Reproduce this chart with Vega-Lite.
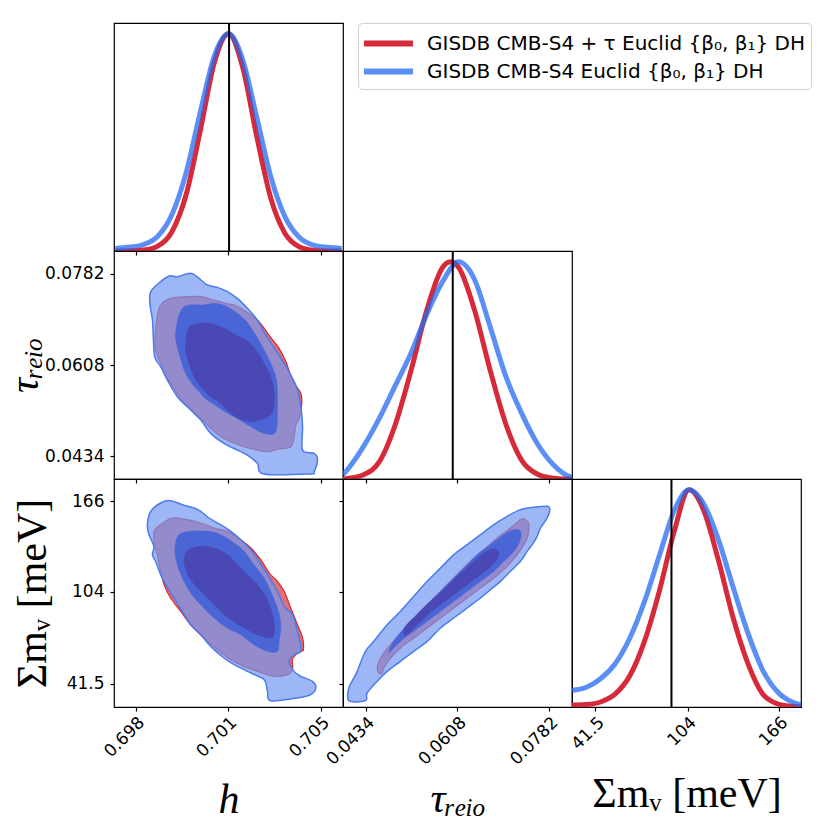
{
"$schema": "https://vega.github.io/schema/vega-lite/v6.json",
"background": "white",
"padding": {"left": 2, "top": 21, "right": 5, "bottom": 5},
"config": {
  "view": {"stroke": "black", "strokeWidth": 1.2},
  "axis": {"grid": false, "domain": false, "tickColor": "black", "tickSize": 4, "tickWidth": 1.2, "labelFont": "DejaVu Sans", "labelFontSize": 17, "labelColor": "black", "labelPadding": 4, "labelOverlap": false, "titleFont": "Liberation Serif", "titleFontSize": 42, "titleFontWeight": "normal", "titleColor": "black"}
},
"datasets": {
  "d11": [
    {"s":"red","h":0.6975,"p":0.0001},{"s":"red","h":0.6980,"p":0.0006},{"s":"red","h":0.6985,"p":0.0042},{"s":"red","h":0.6990,"p":0.0226},{"s":"red","h":0.6995,"p":0.089},{"s":"red","h":0.7000,"p":0.259},{"s":"red","h":0.7005,"p":0.553},{"s":"red","h":0.7010,"p":0.868},{"s":"red","h":0.7015,"p":1.0},{"s":"red","h":0.7020,"p":0.847},{"s":"red","h":0.7025,"p":0.527},{"s":"red","h":0.7030,"p":0.241},{"s":"red","h":0.7035,"p":0.081},{"s":"red","h":0.7040,"p":0.020},{"s":"red","h":0.7045,"p":0.0036},{"s":"red","h":0.7050,"p":0.0005},{"s":"red","h":0.7055,"p":0.0},
    {"s":"blue","h":0.6975,"p":0.012},{"s":"blue","h":0.6980,"p":0.018},{"s":"blue","h":0.6985,"p":0.03},{"s":"blue","h":0.6990,"p":0.068},{"s":"blue","h":0.6995,"p":0.168},{"s":"blue","h":0.7000,"p":0.360},{"s":"blue","h":0.7005,"p":0.639},{"s":"blue","h":0.7010,"p":0.898},{"s":"blue","h":0.7015,"p":1.0},{"s":"blue","h":0.7020,"p":0.882},{"s":"blue","h":0.7025,"p":0.615},{"s":"blue","h":0.7030,"p":0.340},{"s":"blue","h":0.7035,"p":0.157},{"s":"blue","h":0.7040,"p":0.063},{"s":"blue","h":0.7045,"p":0.027},{"s":"blue","h":0.7050,"p":0.017},{"s":"blue","h":0.7055,"p":0.012}
  ],
  "d22": [
    {"s":"red","tau":0.0391,"p":0.0},{"s":"red","tau":0.040,"p":0.003},{"s":"red","tau":0.043,"p":0.02},{"s":"red","tau":0.046,"p":0.08},{"s":"red","tau":0.049,"p":0.25},{"s":"red","tau":0.052,"p":0.50},{"s":"red","tau":0.055,"p":0.78},{"s":"red","tau":0.058,"p":0.975},{"s":"red","tau":0.0595,"p":1.0},{"s":"red","tau":0.061,"p":0.975},{"s":"red","tau":0.064,"p":0.78},{"s":"red","tau":0.067,"p":0.50},{"s":"red","tau":0.070,"p":0.25},{"s":"red","tau":0.073,"p":0.085},{"s":"red","tau":0.076,"p":0.022},{"s":"red","tau":0.079,"p":0.004},{"s":"red","tau":0.082,"p":0.0},{"s":"red","tau":0.0825,"p":0.0},
    {"s":"blue","tau":0.0391,"p":0.02},{"s":"blue","tau":0.040,"p":0.045},{"s":"blue","tau":0.043,"p":0.15},{"s":"blue","tau":0.046,"p":0.28},{"s":"blue","tau":0.049,"p":0.43},{"s":"blue","tau":0.052,"p":0.58},{"s":"blue","tau":0.055,"p":0.76},{"s":"blue","tau":0.058,"p":0.91},{"s":"blue","tau":0.061,"p":1.0},{"s":"blue","tau":0.064,"p":0.92},{"s":"blue","tau":0.067,"p":0.70},{"s":"blue","tau":0.070,"p":0.47},{"s":"blue","tau":0.073,"p":0.30},{"s":"blue","tau":0.076,"p":0.16},{"s":"blue","tau":0.079,"p":0.065},{"s":"blue","tau":0.082,"p":0.012},{"s":"blue","tau":0.0825,"p":0.008}
  ],
  "d33": [
    {"s":"red","m":25.6,"p":0.008},{"s":"red","m":35,"p":0.011},{"s":"red","m":45,"p":0.023},{"s":"red","m":55,"p":0.06},{"s":"red","m":65,"p":0.146},{"s":"red","m":75,"p":0.307},{"s":"red","m":85,"p":0.537},{"s":"red","m":95,"p":0.81},{"s":"red","m":105,"p":1.0},{"s":"red","m":115,"p":0.905},{"s":"red","m":125,"p":0.675},{"s":"red","m":135,"p":0.41},{"s":"red","m":145,"p":0.2},{"s":"red","m":155,"p":0.06},{"s":"red","m":165,"p":0.015},{"s":"red","m":175,"p":0.003},{"s":"red","m":181,"p":0.0},
    {"s":"blue","m":25.6,"p":0.077},{"s":"blue","m":35,"p":0.09},{"s":"blue","m":45,"p":0.13},{"s":"blue","m":55,"p":0.20},{"s":"blue","m":65,"p":0.32},{"s":"blue","m":75,"p":0.49},{"s":"blue","m":85,"p":0.70},{"s":"blue","m":95,"p":0.905},{"s":"blue","m":105,"p":1.0},{"s":"blue","m":115,"p":0.935},{"s":"blue","m":125,"p":0.77},{"s":"blue","m":135,"p":0.55},{"s":"blue","m":145,"p":0.34},{"s":"blue","m":155,"p":0.17},{"s":"blue","m":165,"p":0.07},{"s":"blue","m":175,"p":0.023},{"s":"blue","m":181,"p":0.01}
  ],
  "c21": [
    {"lv":"b95","i":1,"h":0.69875,"tau":0.07476},{"lv":"b95","i":2,"h":0.69910,"tau":0.07666},{"lv":"b95","i":3,"h":0.69940,"tau":0.07774},{"lv":"b95","i":4,"h":0.69969,"tau":0.07761},{"lv":"b95","i":5,"h":0.70016,"tau":0.07825},{"lv":"b95","i":6,"h":0.70046,"tau":0.07730},{"lv":"b95","i":7,"h":0.70075,"tau":0.07603},{"lv":"b95","i":8,"h":0.70111,"tau":0.07558},{"lv":"b95","i":9,"h":0.70146,"tau":0.07476},{"lv":"b95","i":10,"h":0.70181,"tau":0.07349},{"lv":"b95","i":11,"h":0.70217,"tau":0.07158},{"lv":"b95","i":12,"h":0.70252,"tau":0.06936},{"lv":"b95","i":13,"h":0.70282,"tau":0.06651},{"lv":"b95","i":14,"h":0.70317,"tau":0.06365},{"lv":"b95","i":15,"h":0.70347,"tau":0.06111},{"lv":"b95","i":16,"h":0.70376,"tau":0.05826},{"lv":"b95","i":17,"h":0.70394,"tau":0.05604},{"lv":"b95","i":18,"h":0.70406,"tau":0.05286},{"lv":"b95","i":19,"h":0.70412,"tau":0.04906},{"lv":"b95","i":20,"h":0.70412,"tau":0.04461},{"lv":"b95","i":21,"h":0.70453,"tau":0.04398},{"lv":"b95","i":22,"h":0.70465,"tau":0.04271},{"lv":"b95","i":23,"h":0.70453,"tau":0.04049},{"lv":"b95","i":24,"h":0.70435,"tau":0.04005},{"lv":"b95","i":25,"h":0.70276,"tau":0.04005},{"lv":"b95","i":26,"h":0.70252,"tau":0.04208},{"lv":"b95","i":27,"h":0.70217,"tau":0.04366},{"lv":"b95","i":28,"h":0.70181,"tau":0.04461},{"lv":"b95","i":29,"h":0.70134,"tau":0.04588},{"lv":"b95","i":30,"h":0.70087,"tau":0.04779},{"lv":"b95","i":31,"h":0.70052,"tau":0.05033},{"lv":"b95","i":32,"h":0.70016,"tau":0.05223},{"lv":"b95","i":33,"h":0.69969,"tau":0.05477},{"lv":"b95","i":34,"h":0.69934,"tau":0.05794},{"lv":"b95","i":35,"h":0.69910,"tau":0.06048},{"lv":"b95","i":36,"h":0.69889,"tau":0.06238},{"lv":"b95","i":37,"h":0.69884,"tau":0.06619},{"lv":"b95","i":38,"h":0.69881,"tau":0.06936},{"lv":"b95","i":39,"h":0.69872,"tau":0.07254},
    {"lv":"r95","i":1,"h":0.69898,"tau":0.06998},{"lv":"r95","i":2,"h":0.69910,"tau":0.07222},{"lv":"r95","i":3,"h":0.69945,"tau":0.07349},{"lv":"r95","i":4,"h":0.70004,"tau":0.07381},{"lv":"r95","i":5,"h":0.70052,"tau":0.07381},{"lv":"r95","i":6,"h":0.70099,"tau":0.07317},{"lv":"r95","i":7,"h":0.70140,"tau":0.07254},{"lv":"r95","i":8,"h":0.70181,"tau":0.07203},{"lv":"r95","i":9,"h":0.70217,"tau":0.07076},{"lv":"r95","i":10,"h":0.70258,"tau":0.06905},{"lv":"r95","i":11,"h":0.70299,"tau":0.06606},{"lv":"r95","i":12,"h":0.70329,"tau":0.06397},{"lv":"r95","i":13,"h":0.70353,"tau":0.06143},{"lv":"r95","i":14,"h":0.70370,"tau":0.05889},{"lv":"r95","i":15,"h":0.70391,"tau":0.05667},{"lv":"r95","i":16,"h":0.70406,"tau":0.05540},{"lv":"r95","i":17,"h":0.70409,"tau":0.05318},{"lv":"r95","i":18,"h":0.70400,"tau":0.05064},{"lv":"r95","i":19,"h":0.70388,"tau":0.04937},{"lv":"r95","i":20,"h":0.70382,"tau":0.04715},{"lv":"r95","i":21,"h":0.70370,"tau":0.04525},{"lv":"r95","i":22,"h":0.70323,"tau":0.04474},{"lv":"r95","i":23,"h":0.70288,"tau":0.04430},{"lv":"r95","i":24,"h":0.70252,"tau":0.04461},{"lv":"r95","i":25,"h":0.70205,"tau":0.04525},{"lv":"r95","i":26,"h":0.70158,"tau":0.04620},{"lv":"r95","i":27,"h":0.70122,"tau":0.04715},{"lv":"r95","i":28,"h":0.70087,"tau":0.04874},{"lv":"r95","i":29,"h":0.70052,"tau":0.05064},{"lv":"r95","i":30,"h":0.70016,"tau":0.05255},{"lv":"r95","i":31,"h":0.69981,"tau":0.05445},{"lv":"r95","i":32,"h":0.69945,"tau":0.05731},{"lv":"r95","i":33,"h":0.69925,"tau":0.05889},{"lv":"r95","i":34,"h":0.69910,"tau":0.06111},{"lv":"r95","i":35,"h":0.69892,"tau":0.06365},{"lv":"r95","i":36,"h":0.69891,"tau":0.06683},
    {"lv":"b68","i":1,"h":0.69969,"tau":0.06905},{"lv":"b68","i":2,"h":0.69987,"tau":0.07158},{"lv":"b68","i":3,"h":0.70016,"tau":0.07222},{"lv":"b68","i":4,"h":0.70063,"tau":0.07222},{"lv":"b68","i":5,"h":0.70099,"tau":0.07254},{"lv":"b68","i":6,"h":0.70140,"tau":0.07203},{"lv":"b68","i":7,"h":0.70181,"tau":0.07063},{"lv":"b68","i":8,"h":0.70217,"tau":0.06886},{"lv":"b68","i":9,"h":0.70246,"tau":0.06651},{"lv":"b68","i":10,"h":0.70276,"tau":0.06365},{"lv":"b68","i":11,"h":0.70299,"tau":0.06111},{"lv":"b68","i":12,"h":0.70317,"tau":0.05858},{"lv":"b68","i":13,"h":0.70323,"tau":0.05604},{"lv":"b68","i":14,"h":0.70323,"tau":0.05286},{"lv":"b68","i":15,"h":0.70317,"tau":0.04810},{"lv":"b68","i":16,"h":0.70276,"tau":0.04779},{"lv":"b68","i":17,"h":0.70229,"tau":0.04906},{"lv":"b68","i":18,"h":0.70181,"tau":0.05064},{"lv":"b68","i":19,"h":0.70146,"tau":0.05160},{"lv":"b68","i":20,"h":0.70111,"tau":0.05286},{"lv":"b68","i":21,"h":0.70075,"tau":0.05413},{"lv":"b68","i":22,"h":0.70046,"tau":0.05572},{"lv":"b68","i":23,"h":0.70016,"tau":0.05762},{"lv":"b68","i":24,"h":0.69993,"tau":0.05984},{"lv":"b68","i":25,"h":0.69975,"tau":0.06302},{"lv":"b68","i":26,"h":0.69963,"tau":0.06587},
    {"lv":"r68","i":1,"h":0.70004,"tau":0.06714},{"lv":"r68","i":2,"h":0.70016,"tau":0.06822},{"lv":"r68","i":3,"h":0.70052,"tau":0.06873},{"lv":"r68","i":4,"h":0.70087,"tau":0.06873},{"lv":"r68","i":5,"h":0.70134,"tau":0.06778},{"lv":"r68","i":6,"h":0.70176,"tau":0.06651},{"lv":"r68","i":7,"h":0.70217,"tau":0.06543},{"lv":"r68","i":8,"h":0.70252,"tau":0.06334},{"lv":"r68","i":9,"h":0.70276,"tau":0.06111},{"lv":"r68","i":10,"h":0.70299,"tau":0.05858},{"lv":"r68","i":11,"h":0.70311,"tau":0.05604},{"lv":"r68","i":12,"h":0.70311,"tau":0.05286},{"lv":"r68","i":13,"h":0.70299,"tau":0.05128},{"lv":"r68","i":14,"h":0.70270,"tau":0.05045},{"lv":"r68","i":15,"h":0.70229,"tau":0.05001},{"lv":"r68","i":16,"h":0.70193,"tau":0.05045},{"lv":"r68","i":17,"h":0.70158,"tau":0.05160},{"lv":"r68","i":18,"h":0.70122,"tau":0.05350},{"lv":"r68","i":19,"h":0.70087,"tau":0.05477},{"lv":"r68","i":20,"h":0.70052,"tau":0.05667},{"lv":"r68","i":21,"h":0.70028,"tau":0.05858},{"lv":"r68","i":22,"h":0.70010,"tau":0.06111},{"lv":"r68","i":23,"h":0.69999,"tau":0.06334},{"lv":"r68","i":24,"h":0.70000,"tau":0.06556}
  ],
  "c31": [
    {"lv":"b95","i":1,"h":0.69863,"m":149.87},{"lv":"b95","i":2,"h":0.69875,"m":158.96},{"lv":"b95","i":3,"h":0.69910,"m":164.64},{"lv":"b95","i":4,"h":0.69945,"m":166.23},{"lv":"b95","i":5,"h":0.69987,"m":163.50},{"lv":"b95","i":6,"h":0.70028,"m":161.23},{"lv":"b95","i":7,"h":0.70052,"m":158.96},{"lv":"b95","i":8,"h":0.70081,"m":154.42},{"lv":"b95","i":9,"h":0.70122,"m":149.87},{"lv":"b95","i":10,"h":0.70158,"m":145.33},{"lv":"b95","i":11,"h":0.70187,"m":140.78},{"lv":"b95","i":12,"h":0.70229,"m":132.83},{"lv":"b95","i":13,"h":0.70258,"m":124.88},{"lv":"b95","i":14,"h":0.70288,"m":115.79},{"lv":"b95","i":15,"h":0.70323,"m":104.43},{"lv":"b95","i":16,"h":0.70347,"m":94.21},{"lv":"b95","i":17,"h":0.70376,"m":88.53},{"lv":"b95","i":18,"h":0.70388,"m":81.71},{"lv":"b95","i":19,"h":0.70400,"m":72.62},{"lv":"b95","i":20,"h":0.70406,"m":63.54},{"lv":"b95","i":21,"h":0.70382,"m":61.26},{"lv":"b95","i":22,"h":0.70364,"m":56.72},{"lv":"b95","i":23,"h":0.70382,"m":49.90},{"lv":"b95","i":24,"h":0.70406,"m":46.50},{"lv":"b95","i":25,"h":0.70447,"m":43.09},{"lv":"b95","i":26,"h":0.70459,"m":38.54},{"lv":"b95","i":27,"h":0.70441,"m":34.00},{"lv":"b95","i":28,"h":0.70394,"m":31.73},{"lv":"b95","i":29,"h":0.70299,"m":29.91},{"lv":"b95","i":30,"h":0.70288,"m":36.27},{"lv":"b95","i":31,"h":0.70276,"m":44.23},{"lv":"b95","i":32,"h":0.70229,"m":48.77},{"lv":"b95","i":33,"h":0.70170,"m":54.45},{"lv":"b95","i":34,"h":0.70134,"m":58.99},{"lv":"b95","i":35,"h":0.70087,"m":66.94},{"lv":"b95","i":36,"h":0.70052,"m":74.90},{"lv":"b95","i":37,"h":0.70016,"m":81.71},{"lv":"b95","i":38,"h":0.69987,"m":90.80},{"lv":"b95","i":39,"h":0.69957,"m":99.89},{"lv":"b95","i":40,"h":0.69928,"m":108.98},{"lv":"b95","i":41,"h":0.69910,"m":115.79},{"lv":"b95","i":42,"h":0.69892,"m":124.88},{"lv":"b95","i":43,"h":0.69881,"m":129.42},{"lv":"b95","i":44,"h":0.69886,"m":135.10},{"lv":"b95","i":45,"h":0.69869,"m":143.06},
    {"lv":"r95","i":1,"h":0.69886,"m":145.33},{"lv":"r95","i":2,"h":0.69910,"m":149.87},{"lv":"r95","i":3,"h":0.69951,"m":154.42},{"lv":"r95","i":4,"h":0.70004,"m":153.28},{"lv":"r95","i":5,"h":0.70052,"m":151.01},{"lv":"r95","i":6,"h":0.70099,"m":147.60},{"lv":"r95","i":7,"h":0.70146,"m":145.33},{"lv":"r95","i":8,"h":0.70181,"m":141.24},{"lv":"r95","i":9,"h":0.70229,"m":133.97},{"lv":"r95","i":10,"h":0.70264,"m":126.02},{"lv":"r95","i":11,"h":0.70294,"m":116.93},{"lv":"r95","i":12,"h":0.70323,"m":111.25},{"lv":"r95","i":13,"h":0.70347,"m":104.43},{"lv":"r95","i":14,"h":0.70370,"m":93.07},{"lv":"r95","i":15,"h":0.70394,"m":81.71},{"lv":"r95","i":16,"h":0.70412,"m":72.62},{"lv":"r95","i":17,"h":0.70415,"m":64.67},{"lv":"r95","i":18,"h":0.70406,"m":63.54},{"lv":"r95","i":19,"h":0.70388,"m":61.26},{"lv":"r95","i":20,"h":0.70376,"m":57.86},{"lv":"r95","i":21,"h":0.70376,"m":51.04},{"lv":"r95","i":22,"h":0.70358,"m":47.63},{"lv":"r95","i":23,"h":0.70311,"m":46.50},{"lv":"r95","i":24,"h":0.70252,"m":49.90},{"lv":"r95","i":25,"h":0.70205,"m":53.31},{"lv":"r95","i":26,"h":0.70158,"m":57.86},{"lv":"r95","i":27,"h":0.70111,"m":64.67},{"lv":"r95","i":28,"h":0.70063,"m":72.62},{"lv":"r95","i":29,"h":0.70016,"m":81.71},{"lv":"r95","i":30,"h":0.69981,"m":90.80},{"lv":"r95","i":31,"h":0.69945,"m":99.89},{"lv":"r95","i":32,"h":0.69922,"m":108.98},{"lv":"r95","i":33,"h":0.69910,"m":118.06},{"lv":"r95","i":34,"h":0.69898,"m":129.42},{"lv":"r95","i":35,"h":0.69889,"m":136.24},
    {"lv":"b68","i":1,"h":0.69963,"m":137.38},{"lv":"b68","i":2,"h":0.69975,"m":143.06},{"lv":"b68","i":3,"h":0.70016,"m":145.33},{"lv":"b68","i":4,"h":0.70075,"m":145.33},{"lv":"b68","i":5,"h":0.70122,"m":143.06},{"lv":"b68","i":6,"h":0.70170,"m":137.38},{"lv":"b68","i":7,"h":0.70205,"m":131.70},{"lv":"b68","i":8,"h":0.70240,"m":122.61},{"lv":"b68","i":9,"h":0.70276,"m":113.52},{"lv":"b68","i":10,"h":0.70299,"m":104.43},{"lv":"b68","i":11,"h":0.70323,"m":93.07},{"lv":"b68","i":12,"h":0.70335,"m":81.71},{"lv":"b68","i":13,"h":0.70329,"m":70.35},{"lv":"b68","i":14,"h":0.70323,"m":63.54},{"lv":"b68","i":15,"h":0.70288,"m":63.54},{"lv":"b68","i":16,"h":0.70240,"m":68.08},{"lv":"b68","i":17,"h":0.70193,"m":74.90},{"lv":"b68","i":18,"h":0.70146,"m":79.44},{"lv":"b68","i":19,"h":0.70099,"m":86.26},{"lv":"b68","i":20,"h":0.70052,"m":95.35},{"lv":"b68","i":21,"h":0.70016,"m":103.30},{"lv":"b68","i":22,"h":0.69987,"m":113.52},{"lv":"b68","i":23,"h":0.69969,"m":122.61},{"lv":"b68","i":24,"h":0.69961,"m":130.56},
    {"lv":"r68","i":1,"h":0.69993,"m":127.15},{"lv":"r68","i":2,"h":0.70010,"m":132.83},{"lv":"r68","i":3,"h":0.70052,"m":135.10},{"lv":"r68","i":4,"h":0.70099,"m":133.97},{"lv":"r68","i":5,"h":0.70146,"m":129.42},{"lv":"r68","i":6,"h":0.70181,"m":122.61},{"lv":"r68","i":7,"h":0.70217,"m":115.79},{"lv":"r68","i":8,"h":0.70252,"m":108.98},{"lv":"r68","i":9,"h":0.70282,"m":101.02},{"lv":"r68","i":10,"h":0.70299,"m":93.07},{"lv":"r68","i":11,"h":0.70311,"m":83.98},{"lv":"r68","i":12,"h":0.70311,"m":74.90},{"lv":"r68","i":13,"h":0.70294,"m":72.62},{"lv":"r68","i":14,"h":0.70252,"m":74.90},{"lv":"r68","i":15,"h":0.70205,"m":79.44},{"lv":"r68","i":16,"h":0.70158,"m":85.12},{"lv":"r68","i":17,"h":0.70122,"m":90.80},{"lv":"r68","i":18,"h":0.70087,"m":97.62},{"lv":"r68","i":19,"h":0.70052,"m":104.43},{"lv":"r68","i":20,"h":0.70016,"m":112.38},{"lv":"r68","i":21,"h":0.69999,"m":119.20}
  ],
  "c32": [
    {"lv":"b95","i":1,"tau":0.04021,"m":29.91},{"lv":"b95","i":2,"tau":0.04021,"m":38.54},{"lv":"b95","i":3,"tau":0.04115,"m":45.36},{"lv":"b95","i":4,"tau":0.04178,"m":49.90},{"lv":"b95","i":5,"tau":0.04336,"m":63.54},{"lv":"b95","i":6,"tau":0.04494,"m":70.35},{"lv":"b95","i":7,"tau":0.04747,"m":81.71},{"lv":"b95","i":8,"tau":0.04999,"m":90.80},{"lv":"b95","i":9,"tau":0.05252,"m":101.02},{"lv":"b95","i":10,"tau":0.05505,"m":111.25},{"lv":"b95","i":11,"tau":0.05758,"m":120.34},{"lv":"b95","i":12,"tau":0.06010,"m":129.42},{"lv":"b95","i":13,"tau":0.06263,"m":136.24},{"lv":"b95","i":14,"tau":0.06516,"m":143.06},{"lv":"b95","i":15,"tau":0.06769,"m":149.87},{"lv":"b95","i":16,"tau":0.07021,"m":155.55},{"lv":"b95","i":17,"tau":0.07274,"m":160.10},{"lv":"b95","i":18,"tau":0.07526,"m":161.69},{"lv":"b95","i":19,"tau":0.07779,"m":162.37},{"lv":"b95","i":20,"tau":0.07830,"m":160.10},{"lv":"b95","i":21,"tau":0.07779,"m":154.42},{"lv":"b95","i":22,"tau":0.07653,"m":147.60},{"lv":"b95","i":23,"tau":0.07590,"m":141.92},{"lv":"b95","i":24,"tau":0.07495,"m":136.24},{"lv":"b95","i":25,"tau":0.07400,"m":131.70},{"lv":"b95","i":26,"tau":0.07274,"m":124.88},{"lv":"b95","i":27,"tau":0.07084,"m":118.06},{"lv":"b95","i":28,"tau":0.06895,"m":111.25},{"lv":"b95","i":29,"tau":0.06705,"m":105.57},{"lv":"b95","i":30,"tau":0.06516,"m":99.89},{"lv":"b95","i":31,"tau":0.06263,"m":93.07},{"lv":"b95","i":32,"tau":0.06010,"m":86.26},{"lv":"b95","i":33,"tau":0.05758,"m":79.44},{"lv":"b95","i":34,"tau":0.05505,"m":70.35},{"lv":"b95","i":35,"tau":0.05252,"m":63.54},{"lv":"b95","i":36,"tau":0.04999,"m":56.72},{"lv":"b95","i":37,"tau":0.04747,"m":49.90},{"lv":"b95","i":38,"tau":0.04558,"m":43.09},{"lv":"b95","i":39,"tau":0.04368,"m":35.14},{"lv":"b95","i":40,"tau":0.04336,"m":29.91},
    {"lv":"r95","i":1,"tau":0.04589,"m":48.77},{"lv":"r95","i":2,"tau":0.04558,"m":52.18},{"lv":"r95","i":3,"tau":0.04621,"m":58.99},{"lv":"r95","i":4,"tau":0.04810,"m":68.08},{"lv":"r95","i":5,"tau":0.05063,"m":78.30},{"lv":"r95","i":6,"tau":0.05316,"m":88.53},{"lv":"r95","i":7,"tau":0.05568,"m":97.62},{"lv":"r95","i":8,"tau":0.05821,"m":106.70},{"lv":"r95","i":9,"tau":0.06074,"m":115.79},{"lv":"r95","i":10,"tau":0.06326,"m":124.88},{"lv":"r95","i":11,"tau":0.06579,"m":132.83},{"lv":"r95","i":12,"tau":0.06832,"m":140.78},{"lv":"r95","i":13,"tau":0.07084,"m":147.60},{"lv":"r95","i":14,"tau":0.07274,"m":153.28},{"lv":"r95","i":15,"tau":0.07369,"m":153.28},{"lv":"r95","i":16,"tau":0.07432,"m":149.87},{"lv":"r95","i":17,"tau":0.07413,"m":141.92},{"lv":"r95","i":18,"tau":0.07337,"m":136.24},{"lv":"r95","i":19,"tau":0.07211,"m":129.42},{"lv":"r95","i":20,"tau":0.07021,"m":121.47},{"lv":"r95","i":21,"tau":0.06769,"m":113.52},{"lv":"r95","i":22,"tau":0.06516,"m":106.70},{"lv":"r95","i":23,"tau":0.06263,"m":99.89},{"lv":"r95","i":24,"tau":0.06010,"m":93.07},{"lv":"r95","i":25,"tau":0.05758,"m":86.26},{"lv":"r95","i":26,"tau":0.05505,"m":79.44},{"lv":"r95","i":27,"tau":0.05252,"m":72.62},{"lv":"r95","i":28,"tau":0.04999,"m":65.81},{"lv":"r95","i":29,"tau":0.04810,"m":58.99},{"lv":"r95","i":30,"tau":0.04684,"m":52.18},{"lv":"r95","i":31,"tau":0.04652,"m":48.77},
    {"lv":"b68","i":1,"tau":0.04779,"m":63.54},{"lv":"b68","i":2,"tau":0.04873,"m":70.35},{"lv":"b68","i":3,"tau":0.05126,"m":81.71},{"lv":"b68","i":4,"tau":0.05379,"m":90.80},{"lv":"b68","i":5,"tau":0.05631,"m":99.89},{"lv":"b68","i":6,"tau":0.05884,"m":108.98},{"lv":"b68","i":7,"tau":0.06200,"m":120.34},{"lv":"b68","i":8,"tau":0.06453,"m":129.42},{"lv":"b68","i":9,"tau":0.06705,"m":136.24},{"lv":"b68","i":10,"tau":0.06958,"m":143.06},{"lv":"b68","i":11,"tau":0.07148,"m":146.46},{"lv":"b68","i":12,"tau":0.07274,"m":145.33},{"lv":"b68","i":13,"tau":0.07261,"m":138.51},{"lv":"b68","i":14,"tau":0.07148,"m":131.70},{"lv":"b68","i":15,"tau":0.06958,"m":124.88},{"lv":"b68","i":16,"tau":0.06769,"m":118.06},{"lv":"b68","i":17,"tau":0.06516,"m":111.25},{"lv":"b68","i":18,"tau":0.06263,"m":104.43},{"lv":"b68","i":19,"tau":0.06010,"m":97.62},{"lv":"b68","i":20,"tau":0.05758,"m":90.80},{"lv":"b68","i":21,"tau":0.05505,"m":83.98},{"lv":"b68","i":22,"tau":0.05252,"m":77.17},{"lv":"b68","i":23,"tau":0.04999,"m":70.35},{"lv":"b68","i":24,"tau":0.04810,"m":63.54},
    {"lv":"r68","i":1,"tau":0.05063,"m":74.90},{"lv":"r68","i":2,"tau":0.05094,"m":80.58},{"lv":"r68","i":3,"tau":0.05316,"m":88.53},{"lv":"r68","i":4,"tau":0.05568,"m":97.62},{"lv":"r68","i":5,"tau":0.05821,"m":105.57},{"lv":"r68","i":6,"tau":0.06074,"m":114.66},{"lv":"r68","i":7,"tau":0.06326,"m":122.61},{"lv":"r68","i":8,"tau":0.06579,"m":130.56},{"lv":"r68","i":9,"tau":0.06769,"m":133.51},{"lv":"r68","i":10,"tau":0.06863,"m":130.56},{"lv":"r68","i":11,"tau":0.06800,"m":124.88},{"lv":"r68","i":12,"tau":0.06642,"m":119.20},{"lv":"r68","i":13,"tau":0.06389,"m":112.38},{"lv":"r68","i":14,"tau":0.06137,"m":105.57},{"lv":"r68","i":15,"tau":0.05884,"m":98.75},{"lv":"r68","i":16,"tau":0.05631,"m":91.94},{"lv":"r68","i":17,"tau":0.05379,"m":83.98},{"lv":"r68","i":18,"tau":0.05158,"m":76.03}
  ]
},
"columns": 3,
"spacing": 0,
"bounds": "flush",
"concat": [
  {
    "width": 229, "height": 228,
    "data": {"name": "d11"},
    "layer": [
      {"transform": [{"filter": "datum.s == 'red'"}],
       "mark": {"type": "line", "strokeWidth": 5, "interpolate": "monotone", "clip": true},
       "encoding": {
         "x": {"field": "h", "type": "quantitative", "scale": {"domain": [0.69745, 0.70555], "nice": false, "zero": false}, "axis": {"values": [0.69822, 0.70148, 0.70476], "labels": false, "title": null}},
         "y": {"field": "p", "type": "quantitative", "scale": {"domain": [0, 1.05], "nice": false}, "axis": null},
         "color": {"field": "s", "type": "nominal", "scale": {"domain": ["red", "blue"], "range": ["#d62a3a", "#246af2"]},
           "legend": {"orient": "none", "legendX": 244, "legendY": 0, "title": null, "symbolType": "M-2,0H2", "symbolSize": 600, "symbolStrokeWidth": 6, "symbolOffset": 10, "labelFont": "DejaVu Sans", "labelFontSize": 20, "labelColor": "black", "labelLimit": 0, "labelOffset": 23, "rowPadding": 0, "padding": 5, "strokeColor": "#d0d0d0", "fillColor": "white", "cornerRadius": 4,
             "labelExpr": "datum.value == 'red' ? 'GISDB CMB-S4 + τ Euclid {β₀, β₁} DH' : 'GISDB CMB-S4 Euclid {β₀, β₁} DH'",
             "encode": {"symbols": {"update": {"opacity": {"signal": "datum.value == 'blue' ? 0.75 : 1"}}}}}}
       }},
      {"transform": [{"filter": "datum.s == 'blue'"}],
       "mark": {"type": "line", "strokeWidth": 5, "interpolate": "monotone", "opacity": 0.75, "clip": true},
       "encoding": {
         "x": {"field": "h", "type": "quantitative"},
         "y": {"field": "p", "type": "quantitative"},
         "color": {"field": "s", "type": "nominal"}
       }},
      {"data": {"values": [{"h": 0.70152}]},
       "mark": {"type": "rule", "color": "black", "strokeWidth": 2},
       "encoding": {"x": {"field": "h", "type": "quantitative"}}}
    ]
  },
  {"width": 229, "height": 228, "view": {"stroke": null}, "data": {"values": [{"a": 1}]}, "mark": {"type": "point", "opacity": 0}, "encoding": {}},
  {"width": 229, "height": 228, "view": {"stroke": null}, "data": {"values": [{"a": 1}]}, "mark": {"type": "point", "opacity": 0}, "encoding": {}},
  {
    "width": 229, "height": 228,
    "data": {"name": "c21"},
    "encoding": {
      "x": {"field": "h", "type": "quantitative", "scale": {"domain": [0.69745, 0.70555], "nice": false, "zero": false}, "axis": {"values": [0.69822, 0.70148, 0.70476], "labels": false, "title": null}},
      "y": {"field": "tau", "type": "quantitative", "scale": {"domain": [0.0391, 0.0825], "nice": false, "zero": false}, "axis": {"values": [0.0434, 0.0608, 0.0782], "format": ".4f", "labelPadding": 6, "title": "τᵣₑᵢₒ", "titleFontStyle": "italic", "titleX": -77, "titleBaseline": "alphabetic"}},
      "order": {"field": "i", "type": "quantitative"}
    },
    "layer": [
      {"transform": [{"filter": "datum.lv == 'r95'"}], "mark": {"type": "line", "interpolate": "cardinal-closed", "fill": "#e0707a", "stroke": "#d62728", "strokeWidth": 1.2, "clip": true}, "encoding": {}},
      {"transform": [{"filter": "datum.lv == 'b95'"}], "mark": {"type": "line", "interpolate": "cardinal-closed", "fill": "#7497f1", "fillOpacity": 0.7, "stroke": "#4b7bec", "strokeWidth": 1.5, "clip": true}, "encoding": {}},
      {"transform": [{"filter": "datum.lv == 'b68'"}], "mark": {"type": "line", "interpolate": "cardinal-closed", "fill": "#4a66d6", "stroke": "#4a66d6", "strokeWidth": 0.6, "clip": true}, "encoding": {}},
      {"transform": [{"filter": "datum.lv == 'r68'"}], "mark": {"type": "line", "interpolate": "cardinal-closed", "fill": "#4a48b5", "stroke": "#4a48b5", "strokeWidth": 0.6, "clip": true}, "encoding": {}}
    ]
  },
  {
    "width": 229, "height": 228,
    "data": {"name": "d22"},
    "layer": [
      {"transform": [{"filter": "datum.s == 'red'"}],
       "mark": {"type": "line", "strokeWidth": 5, "interpolate": "monotone", "color": "#d62a3a", "clip": true},
       "encoding": {
         "x": {"field": "tau", "type": "quantitative", "scale": {"domain": [0.0391, 0.0825], "nice": false, "zero": false}, "axis": {"values": [0.0434, 0.0608, 0.0782], "labels": false, "title": null}},
         "y": {"field": "p", "type": "quantitative", "scale": {"domain": [0, 1.05], "nice": false}, "axis": null}
       }},
      {"transform": [{"filter": "datum.s == 'blue'"}],
       "mark": {"type": "line", "strokeWidth": 5, "interpolate": "monotone", "color": "#246af2", "opacity": 0.75, "clip": true},
       "encoding": {"x": {"field": "tau", "type": "quantitative"}, "y": {"field": "p", "type": "quantitative"}}},
      {"data": {"values": [{"tau": 0.0599}]},
       "mark": {"type": "rule", "color": "black", "strokeWidth": 2},
       "encoding": {"x": {"field": "tau", "type": "quantitative"}}}
    ]
  },
  {"width": 229, "height": 228, "view": {"stroke": null}, "data": {"values": [{"a": 1}]}, "mark": {"type": "point", "opacity": 0}, "encoding": {}},
  {
    "width": 229, "height": 228,
    "data": {"name": "c31"},
    "encoding": {
      "x": {"field": "h", "type": "quantitative", "scale": {"domain": [0.69745, 0.70555], "nice": false, "zero": false}, "axis": {"values": [0.69822, 0.70148, 0.70476], "labelExpr": "datum.value < 0.700 ? '0.698' : datum.value < 0.703 ? '0.701' : '0.705'", "labelAngle": -45, "labelAlign": "right", "labelBaseline": "top", "labelPadding": 3, "title": "h", "titleFontStyle": "italic", "titleY": 105, "titleBaseline": "alphabetic"}},
      "y": {"field": "m", "type": "quantitative", "scale": {"domain": [25.6, 181.0], "nice": false, "zero": false}, "axis": {"values": [41.5, 104, 166], "labelExpr": "'' + datum.value", "labelPadding": 6, "title": "Σmᵥ [meV]", "titleX": -69, "titleBaseline": "alphabetic"}},
      "order": {"field": "i", "type": "quantitative"}
    },
    "layer": [
      {"transform": [{"filter": "datum.lv == 'r95'"}], "mark": {"type": "line", "interpolate": "cardinal-closed", "fill": "#e0707a", "stroke": "#d62728", "strokeWidth": 1.2, "clip": true}, "encoding": {}},
      {"transform": [{"filter": "datum.lv == 'b95'"}], "mark": {"type": "line", "interpolate": "cardinal-closed", "fill": "#7497f1", "fillOpacity": 0.7, "stroke": "#4b7bec", "strokeWidth": 1.5, "clip": true}, "encoding": {}},
      {"transform": [{"filter": "datum.lv == 'b68'"}], "mark": {"type": "line", "interpolate": "cardinal-closed", "fill": "#4a66d6", "stroke": "#4a66d6", "strokeWidth": 0.6, "clip": true}, "encoding": {}},
      {"transform": [{"filter": "datum.lv == 'r68'"}], "mark": {"type": "line", "interpolate": "cardinal-closed", "fill": "#4a48b5", "stroke": "#4a48b5", "strokeWidth": 0.6, "clip": true}, "encoding": {}}
    ]
  },
  {
    "width": 229, "height": 228,
    "data": {"name": "c32"},
    "encoding": {
      "x": {"field": "tau", "type": "quantitative", "scale": {"domain": [0.0391, 0.0825], "nice": false, "zero": false}, "axis": {"values": [0.0434, 0.0608, 0.0782], "format": ".4f", "labelAngle": -45, "labelAlign": "right", "labelBaseline": "top", "labelPadding": 3, "title": "τᵣₑᵢₒ", "titleFontStyle": "italic", "titleY": 104, "titleBaseline": "alphabetic"}},
      "y": {"field": "m", "type": "quantitative", "scale": {"domain": [25.6, 181.0], "nice": false, "zero": false}, "axis": {"values": [41.5, 104, 166], "labels": false, "title": null}},
      "order": {"field": "i", "type": "quantitative"}
    },
    "layer": [
      {"transform": [{"filter": "datum.lv == 'r95'"}], "mark": {"type": "line", "interpolate": "cardinal-closed", "fill": "#e0707a", "stroke": "#d62728", "strokeWidth": 1.2, "clip": true}, "encoding": {}},
      {"transform": [{"filter": "datum.lv == 'b95'"}], "mark": {"type": "line", "interpolate": "cardinal-closed", "fill": "#7497f1", "fillOpacity": 0.7, "stroke": "#4b7bec", "strokeWidth": 1.5, "clip": true}, "encoding": {}},
      {"transform": [{"filter": "datum.lv == 'b68'"}], "mark": {"type": "line", "interpolate": "cardinal-closed", "fill": "#4a66d6", "stroke": "#4a66d6", "strokeWidth": 0.6, "clip": true}, "encoding": {}},
      {"transform": [{"filter": "datum.lv == 'r68'"}], "mark": {"type": "line", "interpolate": "cardinal-closed", "fill": "#4a48b5", "stroke": "#4a48b5", "strokeWidth": 0.6, "clip": true}, "encoding": {}}
    ]
  },
  {
    "width": 229, "height": 228,
    "data": {"name": "d33"},
    "layer": [
      {"transform": [{"filter": "datum.s == 'red'"}],
       "mark": {"type": "line", "strokeWidth": 5, "interpolate": "monotone", "color": "#d62a3a", "clip": true},
       "encoding": {
         "x": {"field": "m", "type": "quantitative", "scale": {"domain": [25.6, 181.0], "nice": false, "zero": false}, "axis": {"values": [41.5, 104, 166], "labelExpr": "'' + datum.value", "labelAngle": -45, "labelAlign": "right", "labelBaseline": "top", "labelPadding": 3, "title": "Σmᵥ [meV]", "titleY": 99, "titleBaseline": "alphabetic"}},
         "y": {"field": "p", "type": "quantitative", "scale": {"domain": [0, 1.05], "nice": false}, "axis": null}
       }},
      {"transform": [{"filter": "datum.s == 'blue'"}],
       "mark": {"type": "line", "strokeWidth": 5, "interpolate": "monotone", "color": "#246af2", "opacity": 0.75, "clip": true},
       "encoding": {"x": {"field": "m", "type": "quantitative"}, "y": {"field": "p", "type": "quantitative"}}},
      {"data": {"values": [{"m": 93.1}]},
       "mark": {"type": "rule", "color": "black", "strokeWidth": 2},
       "encoding": {"x": {"field": "m", "type": "quantitative"}}}
    ]
  }
]
}
